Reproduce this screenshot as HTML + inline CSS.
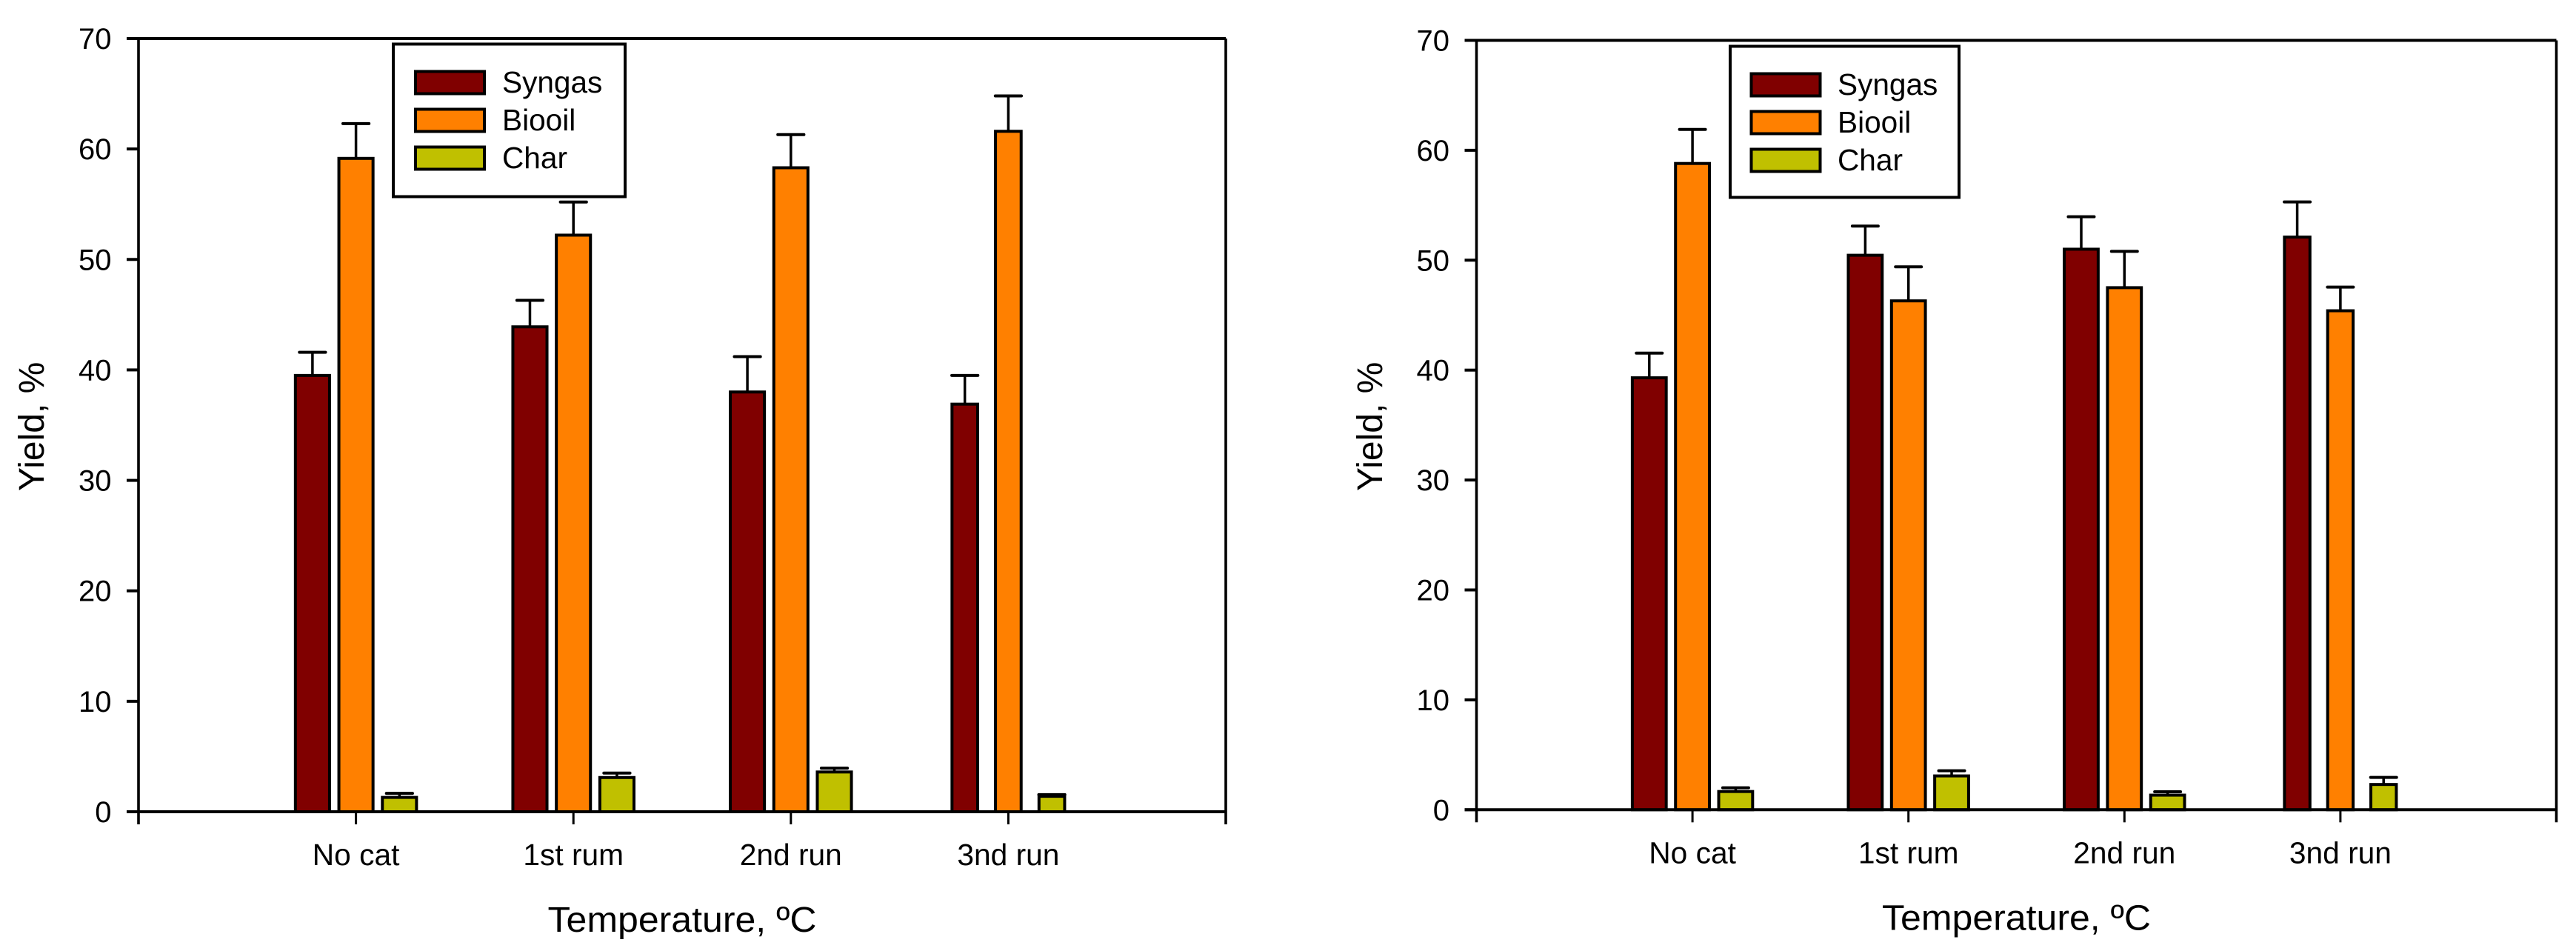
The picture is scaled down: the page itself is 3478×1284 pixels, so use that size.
<!DOCTYPE html>
<html lang="en">
<head>
<meta charset="utf-8">
<title>Yield charts</title>
<style>
html,body{margin:0;padding:0;background:#fff;width:3478px;height:1284px;overflow:hidden}
svg{display:block}
text{font-family:"Liberation Sans",Arial,sans-serif;fill:#000}
</style>
</head>
<body>
<svg id="figure" xmlns="http://www.w3.org/2000/svg" width="3478" height="1284" viewBox="0 0 3478 1284">
  <rect width="3478" height="1284" fill="#fff"/>
  <g id="chart-left"></g>
  <g id="chart-right"></g>
</svg>
<script>
const categories = ["No cat", "1st rum", "2nd run", "3nd run"];
const yTickLabels = [0, 10, 20, 30, 40, 50, 60, 70];
const seriesNames = ["Syngas", "Biooil", "Char"];

const leftSyngas = [39.5, 43.9, 38.0, 36.9];
const leftSyngasErr = [2.1, 2.4, 3.2, 2.6];
const leftBiooil = [59.15, 52.2, 58.3, 61.6];
const leftBiooilErr = [3.15, 3.0, 3.0, 3.2];
const leftChar = [1.3, 3.1, 3.6, 1.4];
const leftCharErr = [0.37, 0.4, 0.35, 0.15];

const rightSyngas = [39.3, 50.45, 51.0, 52.1];
const rightSyngasErr = [2.25, 2.65, 2.95, 3.2];
const rightBiooil = [58.8, 46.3, 47.5, 45.4];
const rightBiooilErr = [3.1, 3.1, 3.3, 2.15];
const rightChar = [1.66, 3.08, 1.33, 2.3];
const rightCharErr = [0.34, 0.47, 0.31, 0.64];

const seriesColors = ["#800000", "#FF8000", "#C0C000"];
const SVG_NS = "http://www.w3.org/2000/svg";

function mk(parent, tag, attrs, content) {
  const el = document.createElementNS(SVG_NS, tag);
  for (const k in attrs) el.setAttribute(k, attrs[k]);
  if (content !== undefined) el.textContent = content;
  parent.appendChild(el);
  return el;
}

function drawChart(root, cfg) {
  const xScale = v => cfg.left + (v / 5) * (cfg.right - cfg.left);
  const yScale = v => cfg.bottom - (v / 70) * (cfg.bottom - cfg.top);
  const unit = (cfg.right - cfg.left) / 5;
  const tickEnd = cfg.bottom + 17;
  const tickStart = cfg.left - 16;

  cfg.series.forEach((values, s) => {
    values.forEach((v, c) => {
      const narrow = c === 3;
      const cx = xScale(c + 1 + (s - 1) * 0.2);
      const w = (narrow ? 0.118 : 0.157) * unit;
      const yv = yScale(v);
      const yc = yScale(v + cfg.errors[s][c]);
      const capHalf = 0.06 * unit;

      const stem = mk(root, "line", {x1: cx, x2: cx, y1: yc, y2: yv, stroke: "#000", "stroke-width": 3.5});
      
      

      const cap = mk(root, "line", {x1: cx - capHalf, x2: cx + capHalf, y1: yc, y2: yc, stroke: "#000", "stroke-width": 4, "stroke-linecap": "round"});
      
      

      const bar = mk(root, "rect", {x: cx - w / 2, y: yv, width: w, height: yScale(0) - yv, fill: seriesColors[s], stroke: "#000", "stroke-width": 4});
      
      
    });
  });

  const frame = [
    [tickStart, cfg.top, cfg.right, cfg.top, 4],
    [tickStart, cfg.bottom, cfg.right, cfg.bottom, 4],
    [cfg.left, cfg.top, cfg.left, tickEnd, 3.6],
    [cfg.right, cfg.top, cfg.right, tickEnd, 3.6]
  ];
  frame.forEach(f => {
    const line = mk(root, "line", {x1: f[0], y1: f[1], x2: f[2], y2: f[3], stroke: "#000", "stroke-width": f[4]});
    
    
  });

  yTickLabels.forEach(t => {
    const y = yScale(t);
    const tick = mk(root, "line", {x1: tickStart, x2: cfg.left, y1: y, y2: y, stroke: "#000", "stroke-width": 4});
    
    
    const label = mk(root, "text", {x: cfg.left - 36.5, y: y + 14, "text-anchor": "end", "font-size": 40}, String(t));
    
    
  });

  categories.forEach((name, i) => {
    const x = xScale(i + 1);
    const tick = mk(root, "line", {x1: x, x2: x, y1: cfg.bottom, y2: tickEnd, stroke: "#000", "stroke-width": 3});
    
    
    const label = mk(root, "text", {x: x, y: cfg.bottom + 72, "text-anchor": "middle", "font-size": 40.7}, name);
    
    
  });

  const xTitle = mk(root, "text", {x: (cfg.left + cfg.right) / 2, y: cfg.bottom + 162, "text-anchor": "middle", "font-size": 48, textLength: 363, lengthAdjust: "spacingAndGlyphs"}, "Temperature, \u00BAC");
  
  

  const yTitle = mk(root, "text", {x: cfg.yTitleX, y: 663, "font-size": 48, transform: "rotate(-90 " + cfg.yTitleX + " 663)"}, "Yield, %");
  
  

  const box = mk(root, "rect", {x: cfg.legend.x, y: cfg.legend.y, width: cfg.legend.w, height: cfg.legend.h, fill: "#fff", stroke: "#000", "stroke-width": 4});
  
  

  seriesNames.forEach((name, i) => {
    const sy = cfg.legend.swatchY + i * 51;
    const swatch = mk(root, "rect", {x: cfg.legend.swatchX, y: sy, width: 93, height: 30, fill: seriesColors[i], stroke: "#000", "stroke-width": 4});
    
    
    const label = mk(root, "text", {x: cfg.legend.textX, y: sy + 28.5, "font-size": 40.6}, name);
    
    
  });
}

drawChart(document.getElementById("chart-left"), {
  left: 187, right: 1655, top: 52, bottom: 1096, yTitleX: 59,
  series: [leftSyngas, leftBiooil, leftChar],
  errors: [leftSyngasErr, leftBiooilErr, leftCharErr],
  legend: {x: 531, y: 59.5, w: 313, h: 206, swatchX: 561, swatchY: 96.5, textX: 678}
});

drawChart(document.getElementById("chart-right"), {
  left: 1993.5, right: 3451.5, top: 54.5, bottom: 1093.3, yTitleX: 1866,
  series: [rightSyngas, rightBiooil, rightChar],
  errors: [rightSyngasErr, rightBiooilErr, rightCharErr],
  legend: {x: 2336, y: 62.5, w: 309, h: 204, swatchX: 2364.5, swatchY: 99.5, textX: 2481}
});
</script>
</body>
</html>
